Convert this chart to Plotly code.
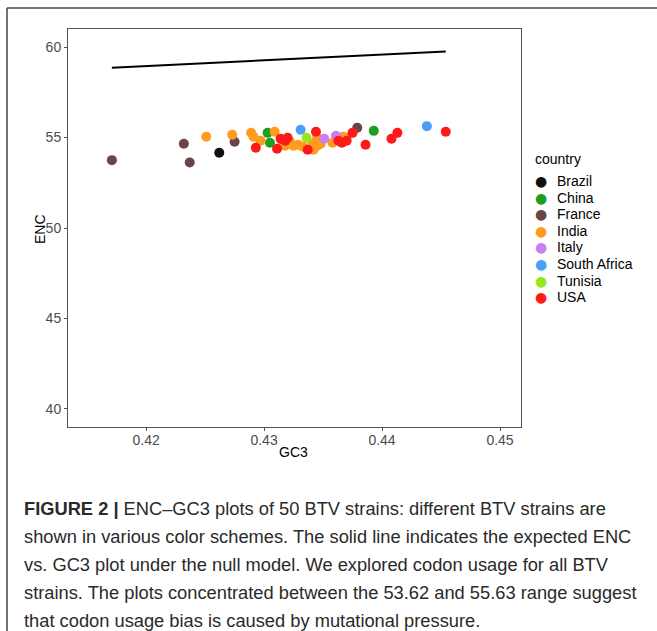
import plotly.graph_objects as go

# ---------------- data ----------------
countries = ["Brazil", "China", "France", "India", "Italy", "South Africa", "Tunisia", "USA"]
colors = ["#111111", "#1f9e1f", "#6b4545", "#ff9c1f", "#c97ff0", "#4a9ff5", "#9ae61e", "#ff1a1a"]

brazil_gc3 = [0.4262]
brazil_enc = [54.16]

china_gc3 = [0.4303, 0.4305, 0.4393]
china_enc = [55.26, 54.71, 55.37]

france_gc3 = [0.4171, 0.4232, 0.4237, 0.4275, 0.4379]
france_enc = [53.75, 54.66, 53.62, 54.77, 55.54]

india_gc3 = [0.4251, 0.4273, 0.4289, 0.4291, 0.4297, 0.4309, 0.4316, 0.4318, 0.4322, 0.4325,
             0.4329, 0.4333, 0.4341, 0.4345, 0.4345, 0.4348, 0.4358, 0.4367, 0.4370, 0.4342]
india_enc = [55.04, 55.15, 55.26, 55.04, 54.82, 55.32, 54.60, 54.55, 54.77, 54.55,
             54.60, 54.49, 54.66, 54.99, 54.55, 54.66, 54.71, 55.04, 54.99, 54.33]

italy_gc3 = [0.4351, 0.4361]
italy_enc = [54.93, 55.10]

safrica_gc3 = [0.4331, 0.4438]
safrica_enc = [55.43, 55.63]

tunisia_gc3 = [0.4336]
tunisia_enc = [54.99]

usa_gc3 = [0.4293, 0.4311, 0.4314, 0.4318, 0.4320, 0.4337, 0.4344, 0.4363, 0.4366, 0.4370,
           0.4375, 0.4386, 0.4408, 0.4413, 0.4454]
usa_enc = [54.44, 54.38, 54.93, 54.82, 54.99, 54.33, 55.32, 54.82, 54.71, 54.82,
           55.26, 54.60, 54.93, 55.26, 55.32]

# expected ENC curve under the null model (end points)
null_gc3 = [0.4171, 0.4454]
null_enc = [58.86, 59.76]

x_ticks = [0.42, 0.43, 0.44, 0.45]
y_ticks = [40, 45, 50, 55, 60]

caption_lines = [
    "<b>FIGURE 2 |</b> ENC–GC3 plots of 50 BTV strains: different BTV strains are",
    "shown in various color schemes. The solid line indicates the expected ENC",
    "vs. GC3 plot under the null model. We explored codon usage for all BTV",
    "strains. The plots concentrated between the 53.62 and 55.63 range suggest",
    "that codon usage bias is caused by mutational pressure.",
]

series = {
    "Brazil": (brazil_gc3, brazil_enc),
    "China": (china_gc3, china_enc),
    "France": (france_gc3, france_enc),
    "India": (india_gc3, india_enc),
    "Italy": (italy_gc3, italy_enc),
    "South Africa": (safrica_gc3, safrica_enc),
    "Tunisia": (tunisia_gc3, tunisia_enc),
    "USA": (usa_gc3, usa_enc),
}

# ---------------- figure ----------------
W, H = 657, 631
L, R, T, B = 68, 521, 29, 427  # plot panel in pixels


def px(x):
    return (x - L) / (R - L)


def py(y):
    return (B - y) / (B - T)


fig = go.Figure()

fig.add_trace(go.Scatter(x=null_gc3, y=null_enc, mode="lines",
                         line=dict(color="black", width=2), showlegend=False,
                         hoverinfo="skip"))

for name, col in zip(countries, colors):
    xs, ys = series[name]
    fig.add_trace(go.Scatter(x=xs, y=ys, mode="markers", name=name,
                             marker=dict(color=col, size=10, line=dict(width=0)),
                             showlegend=False))

font_main = "Liberation Sans, Arial, sans-serif"
ann = []

# axis titles
ann.append(dict(x=px(293), y=py(452), xref="paper", yref="paper", text="GC3",
                showarrow=False, font=dict(size=14, color="black", family=font_main),
                xanchor="center", yanchor="middle"))
ann.append(dict(x=px(40), y=py(229), xref="paper", yref="paper", text="ENC",
                showarrow=False, textangle=-90,
                font=dict(size=14, color="black", family=font_main),
                xanchor="center", yanchor="middle"))

# legend (guide) built from the categories
ann.append(dict(x=px(533), y=py(159), xref="paper", yref="paper", text="country",
                showarrow=False, font=dict(size=14, color="black", family=font_main),
                xanchor="left", yanchor="middle"))
for i, (name, col) in enumerate(zip(countries, colors)):
    yy = 181 + i * 16.6
    ann.append(dict(x=px(541), y=py(yy), xref="paper", yref="paper", text="●",
                    showarrow=False, font=dict(size=14, color=col, family="DejaVu Sans"),
                    xanchor="center", yanchor="middle"))
    ann.append(dict(x=px(555), y=py(yy), xref="paper", yref="paper", text=name,
                    showarrow=False, font=dict(size=14, color="black", family=font_main),
                    xanchor="left", yanchor="middle"))

# caption
for i, line in enumerate(caption_lines):
    yy = 508 + i * 28.2
    ann.append(dict(x=px(22), y=py(yy), xref="paper", yref="paper", text=line,
                    showarrow=False, font=dict(size=18.3, color="#2a2a2a", family=font_main),
                    xanchor="left", yanchor="middle"))

shapes = [
    dict(type="line", xref="paper", yref="paper", x0=px(7), x1=px(700), y0=py(8), y1=py(8),
         line=dict(color="#444444", width=1.5)),
    dict(type="line", xref="paper", yref="paper", x0=px(7), x1=px(7), y0=py(8), y1=py(700),
         line=dict(color="#444444", width=1.5)),
]

fig.update_layout(
    width=W, height=H,
    margin=dict(l=L, r=W - R, t=T, b=H - B, pad=0),
    paper_bgcolor="white", plot_bgcolor="white",
    showlegend=False,
    annotations=ann, shapes=shapes,
    font=dict(family=font_main),
    xaxis=dict(range=[0.41338, 0.45178], tickvals=x_ticks,
               ticktext=[f"{v:.2f}" for v in x_ticks],
               showgrid=False, zeroline=False, showline=True, mirror=True,
               linecolor="#555555", linewidth=1, ticks="outside", ticklen=3,
               ticklabelstandoff=-3,
               tickcolor="#555555", tickfont=dict(size=14, color="#4d4d4d")),
    yaxis=dict(range=[39.0, 61.0], tickvals=y_ticks,
               showgrid=False, zeroline=False, showline=True, mirror=True,
               linecolor="#555555", linewidth=1, ticks="outside", ticklen=3,
               tickcolor="#555555", tickfont=dict(size=14, color="#4d4d4d")),
)

fig.write_html("out.html")
